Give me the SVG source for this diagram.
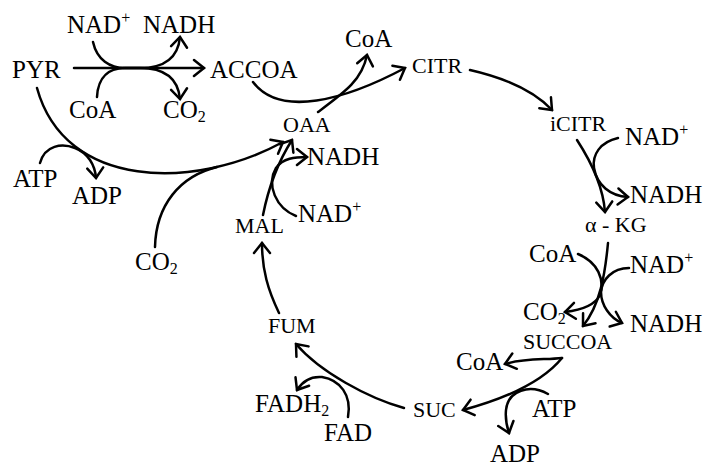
<svg xmlns="http://www.w3.org/2000/svg" width="709" height="466" viewBox="0 0 709 466">
  <style>
    text { font-family: "Liberation Serif", "Times New Roman", serif; fill: #000; }
    .big { font-size: 25px; }
    .small { font-size: 22px; }
    .sup { font-size: 16px; }
    .sub { font-size: 16px; }
    .conn path { fill: none; stroke: #000; stroke-width: 2.5; stroke-linecap: round; }
    .arr { marker-end: url(#head); }
  </style>
  <defs>
    <marker id="head" markerUnits="userSpaceOnUse" viewBox="0 0 14 20" markerWidth="14" markerHeight="20" refX="12" refY="10" orient="auto">
      <path d="M2,2 L12,10 L2,18" fill="none" stroke="#000" stroke-width="2.5" stroke-linecap="round" stroke-linejoin="miter"/>
    </marker>
  </defs>
  <rect width="709" height="466" fill="#fff"/>

  <g class="conn" id="connectors">
    <!-- pyruvate dehydrogenase -->
    <path class="arr" d="M74,68 L204,68"/>
    <path class="arr" d="M93,42 C97,60 110,68 125,68 L140,68 C165,68 178,58 180,37"/>
    <path class="arr" d="M97,97 C98,76 110,68 125,68 L140,68 C165,68 178,78 180,99"/>
    <!-- pyruvate carboxylase -->
    <path class="arr" d="M37,88 C65,190 195,190 283,142"/>
    <path d="M155,247 C156,205 180,176 217,167"/>
    <path class="arr" d="M40,163 C45,145 62,143 75,148 C88,153 95,165 96,178"/>
    <!-- citrate synthase -->
    <path class="arr" d="M253,82 C280,118 345,100 405,68"/>
    <path class="arr" d="M318,112 C345,92 362,80 367,55"/>
    <!-- aconitase -->
    <path class="arr" d="M470,70 C505,78 535,92 552,110"/>
    <!-- isocitrate dehydrogenase -->
    <path class="arr" d="M577,140 C590,160 603,185 605,212"/>
    <path class="arr" d="M618,138 C600,142 592,155 594,168 C597,185 610,196 628,197"/>
    <!-- alpha-KG dehydrogenase -->
    <path class="arr" d="M608,243 C605,275 600,305 583,326"/>
    <path class="arr" d="M578,254 C598,262 605,280 600,295 C595,305 582,310 565,312"/>
    <path class="arr" d="M629,268 C612,268 602,280 601,292 C601,305 610,318 622,323"/>
    <!-- succinyl-CoA synthetase -->
    <path class="arr" d="M562,358 C540,385 500,400 463,410"/>
    <path class="arr" d="M562,358 C545,360 525,358 505,364"/>
    <path class="arr" d="M548,394 C530,384 508,390 506,410 C505,420 507,427 509,433"/>
    <!-- succinate dehydrogenase -->
    <path class="arr" d="M404,408 C368,398 320,372 296,344"/>
    <path class="arr" d="M348,417 C352,395 340,380 322,377 C310,376 302,382 297,390"/>
    <!-- fumarase -->
    <path class="arr" d="M279,313 C268,290 262,270 262,243"/>
    <!-- malate dehydrogenase -->
    <path class="arr" d="M263,215 C268,190 278,162 292,140"/>
    <path class="arr" d="M296,216 C276,208 266,185 276,168 C283,158 295,157 307,157"/>
  </g>

  <!-- metabolites -->
  <g id="PYR"><text class="big" x="12" y="78">PYR</text></g>
  <g id="ACCOA"><text class="big" x="210" y="78">ACCOA</text></g>
  <g id="CITR"><text class="small" x="412" y="73">CITR</text></g>
  <g id="iCITR"><text class="small" x="550" y="131">iCITR</text></g>
  <g id="aKG"><text class="small" x="585" y="232">α - KG</text></g>
  <g id="SUCCOA"><text class="small" x="523" y="349">SUCCOA</text></g>
  <g id="SUC"><text class="small" x="413" y="417">SUC</text></g>
  <g id="FUM"><text class="small" x="268" y="333">FUM</text></g>
  <g id="MAL"><text class="small" x="235" y="233">MAL</text></g>
  <g id="OAA"><text class="small" x="283" y="132">OAA</text></g>

  <!-- cofactors -->
  <g id="nad-pdh"><text class="big" x="67" y="33">NAD<tspan class="sup" dy="-10">+</tspan></text></g>
  <g id="nadh-pdh"><text class="big" x="143" y="33">NADH</text></g>
  <g id="coa-pdh"><text class="big" x="69" y="118">CoA</text></g>
  <g id="co2-pdh"><text class="big" x="163" y="118">CO<tspan class="sub" dy="4">2</tspan></text></g>
  <g id="atp-pc"><text class="big" x="13" y="187">ATP</text></g>
  <g id="adp-pc"><text class="big" x="72" y="204">ADP</text></g>
  <g id="co2-pc"><text class="big" x="135" y="270">CO<tspan class="sub" dy="4">2</tspan></text></g>
  <g id="coa-cs"><text class="big" x="345" y="47">CoA</text></g>
  <g id="nad-idh"><text class="big" x="625" y="145">NAD<tspan class="sup" dy="-10">+</tspan></text></g>
  <g id="nadh-idh"><text class="big" x="630" y="203">NADH</text></g>
  <g id="coa-kgdh"><text class="big" x="529" y="262">CoA</text></g>
  <g id="nad-kgdh"><text class="big" x="630" y="273">NAD<tspan class="sup" dy="-10">+</tspan></text></g>
  <g id="co2-kgdh"><text class="big" x="523" y="320">CO<tspan class="sub" dy="4">2</tspan></text></g>
  <g id="nadh-kgdh"><text class="big" x="630" y="332">NADH</text></g>
  <g id="coa-scs"><text class="big" x="456" y="370">CoA</text></g>
  <g id="atp-scs"><text class="big" x="532" y="417">ATP</text></g>
  <g id="adp-scs"><text class="big" x="490" y="462">ADP</text></g>
  <g id="fadh2-sdh"><text class="big" x="255" y="412">FADH<tspan class="sub" dy="4">2</tspan></text></g>
  <g id="fad-sdh"><text class="big" x="324" y="441">FAD</text></g>
  <g id="nadh-mdh"><text class="big" x="307" y="165">NADH</text></g>
  <g id="nad-mdh"><text class="big" x="298" y="222">NAD<tspan class="sup" dy="-10">+</tspan></text></g>
</svg>
